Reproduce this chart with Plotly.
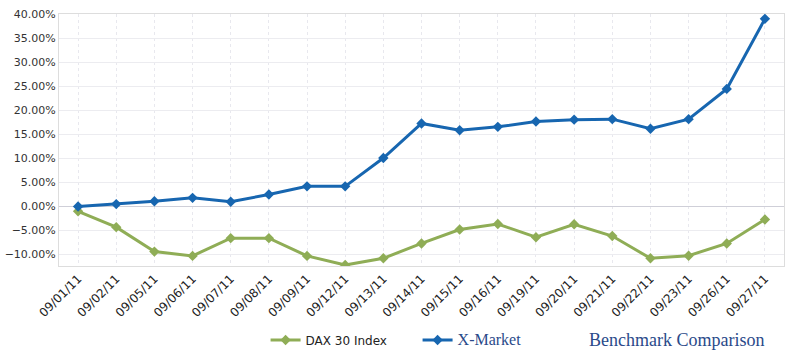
import plotly.graph_objects as go

dates = ["09/01/11", "09/02/11", "09/05/11", "09/06/11", "09/07/11", "09/08/11", "09/09/11",
         "09/12/11", "09/13/11", "09/14/11", "09/15/11", "09/16/11", "09/19/11", "09/20/11",
         "09/21/11", "09/22/11", "09/23/11", "09/26/11", "09/27/11"]
dax = [-1.1, -4.4, -9.5, -10.4, -6.7, -6.7, -10.4, -12.3, -10.9, -7.8, -4.9, -3.75, -6.5, -3.8,
       -6.25, -10.9, -10.35, -7.8, -2.8]
xmarket = [-0.1, 0.4, 1.0, 1.7, 0.9, 2.4, 4.1, 4.1, 10.0, 17.2, 15.8, 16.5, 17.6, 18.0,
           18.1, 16.1, 18.1, 24.4, 39.0]

fig = go.Figure()
fig.add_trace(go.Scatter(
    x=dates, y=[v / 100 for v in dax], name="DAX 30 Index", mode="lines+markers",
    line=dict(color="#8fad56", width=3), marker=dict(symbol="diamond", size=8, color="#8fad56")))
fig.add_trace(go.Scatter(
    x=dates, y=[v / 100 for v in xmarket],
    name='<span style="font-family:Liberation Serif;font-size:16px;color:#2a4a8a">X-Market</span>',
    mode="lines+markers",
    line=dict(color="#1766b0", width=3), marker=dict(symbol="diamond", size=8, color="#1766b0")))

fig.update_layout(
    width=789, height=356,
    margin=dict(l=59, r=5, t=14, b=90, autoexpand=False),
    paper_bgcolor="white", plot_bgcolor="white",
    font=dict(family="DejaVu Sans", size=11, color="#333333"),
    showlegend=True,
    legend=dict(orientation="h", xref="container", yref="container",
                x=0.3366, xanchor="left", y=0.045, yanchor="middle",
                font=dict(family="DejaVu Sans", size=12, color="#222222"),
                itemwidth=30, traceorder="normal", entrywidth=107),
    xaxis=dict(type="category", range=[-0.5, 18.5], tickangle=-45, automargin=False,
               showgrid=True, gridcolor="#e8e8ee", griddash="dot",
               showline=True, linecolor="#dddddd", mirror=True, ticks="",
               ticklabeloverflow="allow",
               tickfont=dict(family="DejaVu Sans", size=12, color="#222222")),
    yaxis=dict(range=[-0.125, 0.4001], dtick=0.05, tickformat=".2%", automargin=False,
               showgrid=True, gridcolor="#ececf0", ticklabeloverflow="allow",
               zeroline=True, zerolinecolor="#cfcfd8", zerolinewidth=1,
               showline=True, linecolor="#dddddd", mirror=True,
               tickfont=dict(family="DejaVu Sans", size=11, color="#333333")),
    annotations=[dict(text="Benchmark Comparison", xref="paper", yref="paper",
                      x=0.975, xanchor="right", y=-0.294, yanchor="middle", showarrow=False,
                      font=dict(family="Liberation Serif", size=18, color="#2a4a8a"))],
)

fig.write_html("out.html", config={"displayModeBar": False},
               post_script="document.body.style.margin='0';document.body.style.overflow='hidden';")
